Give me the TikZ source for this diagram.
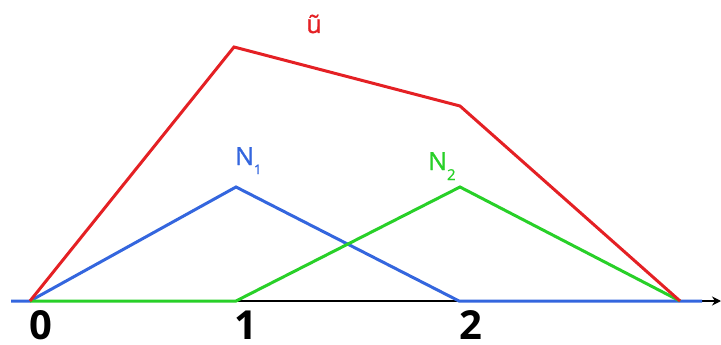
\documentclass[tikz,border=0pt]{standalone}
\usepackage{fontspec}
\setmainfont{Open Sans}
\newfontfamily\medfont[FakeBold=1.2]{Open Sans}
\usetikzlibrary{arrows.meta}
\definecolor{cred}{RGB}{228,32,36}
\definecolor{cblue}{RGB}{52,102,222}
\definecolor{cgreen}{RGB}{40,208,40}
\begin{document}
\begin{tikzpicture}[x=1pt,y=-1pt,
  curve/.style={line width=3pt,line join=miter},
  axislabel/.style={anchor=base,font=\fontsize{40}{40}\selectfont\bfseries,inner sep=0pt},
  fnlabel/.style={anchor=base west,font=\medfont\fontsize{25}{25}\selectfont,inner sep=0pt}]
\useasboundingbox (0,0) rectangle (721,345);
\coordinate (L) at (11,301);
\coordinate (R) at (721,301);
\coordinate (P0) at (30,301);
\coordinate (P1) at (236,301);
\coordinate (P2) at (459,301);
\coordinate (P3) at (680,301);
\coordinate (Pb) at (702,301);
\coordinate (U1) at (234,47);
\coordinate (U2) at (460,106);
\coordinate (B1) at (236,187);
\coordinate (G2) at (460,187);
% axis
\draw[line width=2.2pt,-{Stealth[length=9pt,width=9pt]}] (L) -- (R);
% blue N1
\draw[curve,cblue] (L) -- (P0) -- (B1) -- (P2) -- (Pb);
% green N2
\draw[curve,cgreen] (P0) -- (P1) -- (G2) -- (P3);
% red u
\draw[curve,cred] (P0) -- (U1) -- (U2) -- (P3);
% labels
\node[axislabel] (l0) at (41,339) {0};
\node[axislabel] (l1) at (246,339) {1};
\node[axislabel] (l2) at (471,339) {2};
\node[fnlabel,text=cblue] (n1) at (235,165) {N\raisebox{-9pt}{\fontsize{13}{13}\selectfont 1}};
\node[fnlabel,text=cgreen] (n2) at (428,170) {N\raisebox{-10pt}{\fontsize{15}{15}\selectfont 2}};
\node[anchor=base,font=\medfont\fontsize{25}{25}\selectfont,text=cred,inner sep=0pt] (u) at (314,33) {ũ};
\end{tikzpicture}
\end{document}
